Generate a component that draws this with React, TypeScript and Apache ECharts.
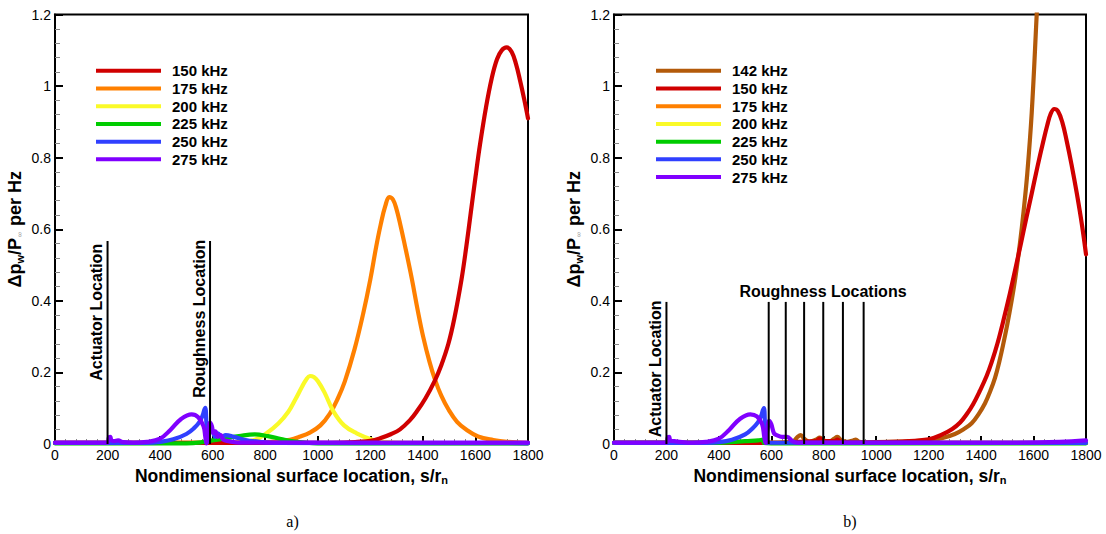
import React, { useEffect, useRef } from "react";
import * as echarts from "echarts";

// ---------- data: panel a) ----------
const namesA = ["150 kHz", "175 kHz", "200 kHz", "225 kHz", "250 kHz", "275 kHz"];
const namesB = ["142 kHz", "150 kHz", "175 kHz", "200 kHz", "225 kHz", "250 kHz", "275 kHz"];

const a150: number[][] = [[0,0.003],[1000,0.003],[1100,0.004],[1150,0.006],[1200,0.009],[1237,0.016],[1280,0.028],[1313,0.041],[1350,0.066],[1376,0.09],[1410,0.128],[1446,0.178],[1470,0.22],[1497,0.28],[1520,0.352],[1547,0.46],[1565,0.55],[1582,0.645],[1600,0.745],[1617,0.835],[1640,0.94],[1662,1.022],[1682,1.075],[1700,1.1],[1719,1.108],[1738,1.095],[1755,1.06],[1770,1.015],[1785,0.965],[1800,0.91]];
const a175: number[][] = [[0,0.003],[700,0.003],[800,0.005],[850,0.008],[894,0.012],[930,0.02],[970,0.032],[1010,0.052],[1046,0.085],[1075,0.125],[1103,0.175],[1140,0.265],[1173,0.365],[1200,0.46],[1222,0.55],[1240,0.615],[1257,0.665],[1272,0.69],[1286,0.683],[1300,0.655],[1315,0.61],[1330,0.56],[1357,0.465],[1380,0.375],[1401,0.3],[1425,0.23],[1446,0.18],[1470,0.135],[1497,0.097],[1530,0.062],[1567,0.039],[1610,0.021],[1668,0.011],[1720,0.006],[1800,0.003]];
const a200: number[][] = [[0,0.003],[600,0.003],[700,0.006],[761,0.012],[805,0.03],[850,0.057],[888,0.09],[915,0.125],[940,0.16],[955,0.179],[970,0.19],[985,0.187],[1000,0.176],[1025,0.145],[1059,0.092],[1100,0.052],[1148,0.03],[1211,0.011],[1260,0.005],[1350,0.003],[1800,0.002]];
const a225: number[][] = [[0,0.002],[500,0.002],[560,0.005],[600,0.01],[650,0.016],[700,0.022],[760,0.027],[810,0.022],[860,0.014],[900,0.008],[950,0.004],[1000,0.002],[1800,0.002]];
const a250: number[][] = [[0,0.003],[350,0.003],[400,0.006],[450,0.013],[500,0.028],[530,0.045],[550,0.062],[562,0.08],[568,0.095],[572,0.101],[576,0.06],[579,0.005],[583,0.02],[590,0.048],[600,0.035],[610,0.02],[620,0.03],[635,0.02],[650,0.025],[680,0.02],[720,0.012],[780,0.006],[850,0.003],[1800,0.002]];
const a275: number[][] = [[0,0.004],[200,0.004],[205,0.018],[210,0.02],[215,0.01],[225,0.008],[240,0.01],[260,0.005],[300,0.004],[350,0.006],[400,0.015],[440,0.04],[480,0.07],[520,0.083],[545,0.075],[565,0.05],[572,0.02],[576,0.002],[582,0.03],[590,0.06],[597,0.05],[603,0.03],[610,0.035],[620,0.02],[630,0.025],[640,0.012],[660,0.008],[700,0.004],[1800,0.004]];

// ---------- data: panel b) ----------
const b142: number[][] = [[0,0.003],[600,0.003],[680,0.006],[700,0.02],[712,0.025],[725,0.015],[745,0.006],[770,0.012],[785,0.018],[800,0.01],[820,0.006],[840,0.015],[852,0.02],[865,0.012],[890,0.006],[912,0.01],[922,0.012],[935,0.006],[960,0.004],[1000,0.005],[1100,0.007],[1200,0.01],[1250,0.016],[1300,0.028],[1335,0.042],[1364,0.058],[1390,0.083],[1415,0.114],[1435,0.148],[1453,0.185],[1470,0.232],[1485,0.281],[1500,0.335],[1515,0.395],[1530,0.462],[1548,0.56],[1562,0.65],[1576,0.755],[1593,0.925],[1612,1.2],[1630,1.47]];
const b150: number[][] = [[0,0.003],[650,0.003],[700,0.006],[770,0.008],[785,0.015],[800,0.008],[840,0.008],[852,0.012],[865,0.006],[900,0.004],[1000,0.005],[1100,0.007],[1200,0.013],[1250,0.026],[1290,0.042],[1320,0.06],[1345,0.083],[1370,0.112],[1395,0.148],[1421,0.19],[1440,0.228],[1462,0.28],[1485,0.345],[1510,0.421],[1530,0.487],[1552,0.561],[1572,0.63],[1593,0.7],[1615,0.775],[1637,0.845],[1652,0.89],[1665,0.922],[1679,0.936],[1693,0.93],[1710,0.898],[1726,0.848],[1745,0.78],[1765,0.7],[1785,0.61],[1800,0.53]];
const b175: number[][] = [[0,0.003],[600,0.003],[700,0.004],[1800,0.003]];
const b200: number[][] = [[0,0.003],[600,0.003],[700,0.003],[1800,0.003]];
const b225: number[][] = [[0,0.003],[400,0.003],[450,0.005],[500,0.008],[550,0.01],[568,0.012],[572,0.003],[600,0.002],[1800,0.002]];
const b250: number[][] = [[0,0.003],[350,0.003],[400,0.005],[450,0.012],[500,0.027],[530,0.045],[550,0.062],[562,0.08],[568,0.095],[572,0.1],[576,0.05],[580,0.004],[1800,0.003]];
const b275: number[][] = [[0,0.004],[200,0.004],[205,0.018],[210,0.02],[215,0.01],[230,0.008],[250,0.006],[300,0.004],[350,0.006],[400,0.015],[440,0.04],[480,0.07],[520,0.083],[545,0.077],[565,0.055],[573,0.02],[578,0.003],[585,0.04],[592,0.065],[600,0.055],[610,0.03],[620,0.025],[640,0.02],[660,0.02],[680,0.008],[700,0.004],[1500,0.004],[1700,0.006],[1800,0.01]];

// marker locations
const actuatorX = 200;
const roughA = [590];
const roughB = [590, 655, 725, 798, 873, 952];
const markTopA = 0.567;
const markTopB = 0.397;

const colors: Record<string, string> = {
  "142 kHz": "#b35a0a",
  "150 kHz": "#d00000",
  "175 kHz": "#ff8000",
  "200 kHz": "#fafa28",
  "225 kHz": "#00cc00",
  "250 kHz": "#3040ff",
  "275 kHz": "#8000ff",
};

const FONT = "'Liberation Sans', Arial, Helvetica, sans-serif";

export default function App() {
  const ref = useRef<HTMLDivElement>(null);
  useEffect(() => {
    document.body.style.margin = "0";
    const chart = echarts.init(ref.current!, null, { renderer: "svg" });

    const mkLine = (name: string, data: number[][], gi: number, z = 2) => ({
      type: "line",
      name,
      data,
      xAxisIndex: gi,
      yAxisIndex: gi,
      showSymbol: false,
      symbol: "none",
      smooth: 0.4,
      z,
      lineStyle: { width: 4.2, color: colors[name], join: "round", cap: "round" },
      itemStyle: { color: colors[name] },
      silent: true,
    });
    const mkMark = (x: number, top: number, gi: number) => ({
      type: "line",
      data: [[x, 0], [x, top]],
      xAxisIndex: gi,
      yAxisIndex: gi,
      symbol: "none",
      z: 5,
      lineStyle: { width: 2, color: "#000" },
      silent: true,
    });

    const grids = [
      { left: 55, top: 14.5, width: 473, height: 429.5 },
      { left: 614, top: 14.5, width: 472, height: 429.5 },
    ].map((g) => ({ ...g, show: true, borderColor: "#000", borderWidth: 2, backgroundColor: "transparent" }));

    const xAxes = [0, 1].map((i) => ({
      type: "value",
      gridIndex: i,
      min: 0,
      max: 1800,
      interval: 200,
      name: "{a|Nondimensional surface location, s/r}{s|n}",
      nameLocation: "middle",
      nameGap: 12,
      nameTextStyle: {
        verticalAlign: "top",
        rich: {
          a: { fontFamily: FONT, fontWeight: "bold", fontSize: 17.5, color: "#000" },
          s: { fontFamily: FONT, fontWeight: "bold", fontSize: 11, color: "#000", padding: [9, 0, 0, 0] },
        },
      },
      axisLine: { lineStyle: { color: "#000", width: 2 } },
      axisTick: { inside: true, length: 8, lineStyle: { color: "#000", width: 2 } },
      minorTick: { show: true, splitNumber: 5, length: 5, lineStyle: { color: "#888", width: 1 } },
      splitLine: { show: false },
      axisLabel: { fontFamily: FONT, fontSize: 14, color: "#000", margin: 4, formatter: (v: number) => String(v) },
    }));
    const yAxes = [0, 1].map((i) => ({
      type: "value",
      gridIndex: i,
      min: 0,
      max: 1.2,
      interval: 0.2,
      name: "{a|Δp}{s|w}{a|/P}{g|∞}{a| per Hz}",
      nameLocation: "middle",
      nameGap: 30,
      nameRotate: 90,
      nameTextStyle: {
        rich: {
          a: { fontFamily: FONT, fontWeight: "bold", fontSize: 18, color: "#000" },
          s: { fontFamily: FONT, fontWeight: "bold", fontSize: 11, color: "#000", padding: [9, 0, 0, 0] },
          g: { fontFamily: FONT, fontSize: 7, color: "#999", padding: [9, 1, 0, 1] },
        },
      },
      axisLine: { lineStyle: { color: "#000", width: 2 } },
      axisTick: { inside: true, length: 8, lineStyle: { color: "#000", width: 2 } },
      minorTick: { show: true, splitNumber: 5, length: 5, lineStyle: { color: "#888", width: 1 } },
      splitLine: { show: false },
      axisLabel: { fontFamily: FONT, fontSize: 14, color: "#000", margin: 4, formatter: (v: number) => String(Math.round(v * 10) / 10) },
    }));

    const seriesA = [
      mkLine("175 kHz", a175, 0),
      mkLine("200 kHz", a200, 0),
      mkLine("150 kHz", a150, 0),
      mkLine("225 kHz", a225, 0),
      mkLine("250 kHz", a250, 0),
      mkLine("275 kHz", a275, 0),
      mkMark(actuatorX, markTopA, 0),
      ...roughA.map((x) => mkMark(x, markTopA, 0)),
    ];
    const seriesB = [
      mkLine("175 kHz", b175, 1),
      mkLine("200 kHz", b200, 1),
      mkLine("142 kHz", b142, 1),
      mkLine("150 kHz", b150, 1),
      mkLine("225 kHz", b225, 1),
      mkLine("250 kHz", b250, 1),
      mkLine("275 kHz", b275, 1),
      mkMark(actuatorX, markTopB, 1),
      ...roughB.map((x) => mkMark(x, markTopB, 1)),
    ];

    const legendBase = {
      orient: "vertical",
      icon: "rect",
      itemWidth: 65,
      itemHeight: 4,
      itemGap: 0,
      selectedMode: false,
      textStyle: { fontFamily: FONT, fontWeight: "bold", fontSize: 15, color: "#000", lineHeight: 17.7, padding: [0, 0, 0, 6] },
    };

    chart.setOption({
      animation: false,
      grid: grids,
      xAxis: xAxes,
      yAxis: yAxes,
      legend: [
        { ...legendBase, left: 91, top: 57, data: namesA },
        { ...legendBase, left: 651, top: 57, data: namesB },
      ],
      series: [...seriesA, ...seriesB],
    });

    const px = (gi: number, x: number, y: number) => chart.convertToPixel({ gridIndex: gi }, [x, y]) as number[];
    const boldFont = `bold 16px ${FONT}`;
    const vText = (gi: number, x: number, yMid: number, text: string) => {
      const p = px(gi, x, yMid);
      return {
        type: "text",
        x: p[0] - 3,
        y: p[1],
        rotation: Math.PI / 2,
        silent: true,
        z: 10,
        style: { text, font: boldFont, fill: "#000", align: "center", verticalAlign: "bottom" },
      };
    };
    const rl = px(1, (roughB[0] + roughB[roughB.length - 1]) / 2 + 26, markTopB + 0.008);
    const capA = px(0, 900, 0);
    const capB = px(1, 900, 0);

    chart.setOption({
      graphic: [
        vText(0, actuatorX, 0.368, "Actuator Location"),
        vText(0, roughA[0], 0.35, "Roughness Location"),
        vText(1, actuatorX, 0.21, "Actuator Location"),
        {
          type: "text",
          x: rl[0],
          y: rl[1],
          silent: true,
          z: 10,
          style: { text: "Roughness Locations", font: boldFont, fill: "#000", align: "center", verticalAlign: "bottom" },
        },
        { type: "text", x: capA[0] + 1, y: 521, style: { text: "a)", font: "16px 'Liberation Serif', 'Times New Roman', serif", fill: "#000", align: "center", verticalAlign: "middle" } },
        { type: "text", x: capB[0], y: 521, style: { text: "b)", font: "16px 'Liberation Serif', 'Times New Roman', serif", fill: "#000", align: "center", verticalAlign: "middle" } },
      ],
    });

    return () => chart.dispose();
  }, []);
  return <div ref={ref} style={{ width: 1106, height: 534 }} />;
}
